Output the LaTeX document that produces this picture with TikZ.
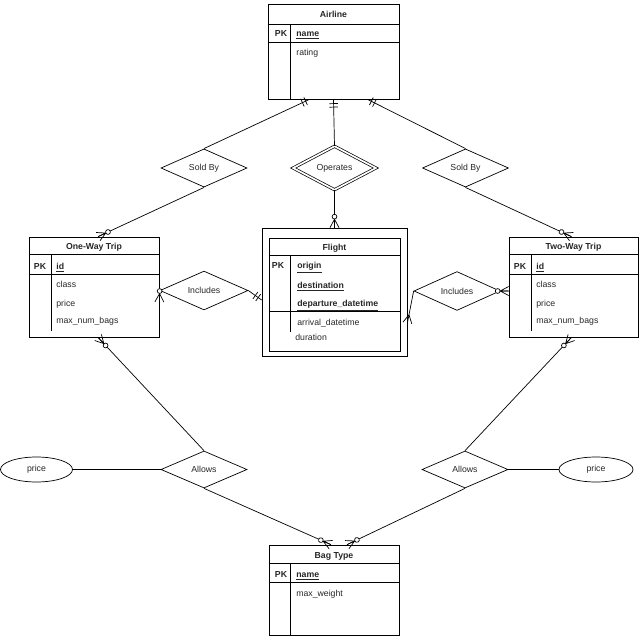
\documentclass[tikz,border=0pt]{standalone}
\usepackage{fontspec}
\setmainfont{Liberation Sans}
\usetikzlibrary{shapes.geometric,decorations.markings}

\newcommand{\erfont}{\fontsize{6.2}{7.5}\selectfont}

\tikzset{
  entity/.style={draw, rectangle, inner sep=0pt},
  rel/.style={draw, diamond, inner sep=0pt},
  attr/.style={draw, ellipse, inner sep=0pt},
  field/.style={anchor=west, inner sep=0pt, text height=1.6ex, text depth=0.6ex},
  title/.style={font=\erfont\bfseries, inner sep=0pt, text height=1.6ex, text depth=0.6ex},
  % cardinality marks at the end of a connector
  mandone/.style={postaction={decorate, decoration={markings, mark=at position 1 with {
      \draw (-3pt,-3pt) -- (-3pt,3pt) (-5.5pt,-3pt) -- (-5.5pt,3pt);}}}},
  zeromany/.style={postaction={decorate, decoration={markings, mark=at position 1 with {
      \draw (-6pt,0) -- (0,3.2pt) (-6pt,0) -- (0,-3.2pt) (-6pt,0) -- (0,0);
      \draw[fill=white] (-7.8pt,0) circle (1.7pt);}}}},
  many/.style={postaction={decorate, decoration={markings, mark=at position 1 with {
      \draw (-6pt,0) -- (0,3.2pt) (-6pt,0) -- (0,-3.2pt);}}}}
}

\begin{document}
\begin{tikzpicture}[x=0.025cm, y=-0.025cm, line width=0.5pt,
    every node/.style={font=\erfont, text=black!85}]
  \useasboundingbox (0,0) rectangle (640,640);

  % Airline
  \node[entity, minimum width=3.275cm, minimum height=2.375cm] (airline) at (333.5,51.5) {};
  \draw (airline.north west) ++(0,21) -- ++(131,0);
  \draw (airline.north west) ++(0,38.5) -- ++(131,0);
  \draw (airline.north west) ++(23,21) -- ++(0,74);
  \node[title] (airlinet) at (333.5,14) {Airline};
  \node[title] (airlinepk) at (281,33) {PK};
  \node[field, font=\erfont\bfseries] (airlinek) at (296,33) {\underline{name}};
  \node[field] (airlinea) at (296,52) {rating};

  % Flight (weak entity)
  \node[entity, minimum width=3.625cm, minimum height=3.2cm] (flighto) at (334.5,292) {};
  \node[entity, minimum width=3.275cm, minimum height=2.825cm] (flight) at (334.5,294.5) {};
  \draw (flight.north west) ++(0,18) -- ++(131,0);
  \draw (flight.north west) ++(0,74) -- ++(131,0);
  \draw (flight.north west) ++(22,18) -- ++(0,76);
  \node[title] (flightt) at (334.5,247) {Flight};
  \node[title] (flightpk) at (278,265) {PK};
  \node[field, font=\erfont\bfseries] (flightk1) at (297,265) {\underline{origin}};
  \node[field, font=\erfont\bfseries] (flightk2) at (297,285) {\underline{destination}};
  \node[field, font=\erfont\bfseries] (flightk3) at (297,303) {\underline{departure\_datetime}};
  \node[field] (flighta1) at (297,322) {arrival\_datetime};
  \node[field] (flighta2) at (295,337) {duration};

  % One-Way Trip
  \node[entity, minimum width=3.25cm, minimum height=2.5cm] (oneway) at (94,287) {};
  \draw (oneway.north west) ++(0,18) -- ++(130,0);
  \draw (oneway.north west) ++(0,38) -- ++(130,0);
  \draw (oneway.north west) ++(23,18) -- ++(0,76);
  \node[title] (onewayt) at (94,246) {One-Way Trip};
  \node[title] (onewaypk) at (40,266) {PK};
  \node[field, font=\erfont\bfseries] (onewayk) at (56,266) {\underline{id}};
  \node[field] (onewaya1) at (56,284) {class};
  \node[field] (onewaya2) at (56,303) {price};
  \node[field] (onewaya3) at (56,320) {max\_num\_bags};

  % Two-Way Trip
  \node[entity, minimum width=3.225cm, minimum height=2.5cm] (twoway) at (573.5,287) {};
  \draw (twoway.north west) ++(0,18) -- ++(129,0);
  \draw (twoway.north west) ++(0,38) -- ++(129,0);
  \draw (twoway.north west) ++(23,18) -- ++(0,76);
  \node[title] (twowayt) at (573.5,246) {Two-Way Trip};
  \node[title] (twowaypk) at (520,266) {PK};
  \node[field, font=\erfont\bfseries] (twowayk) at (536,266) {\underline{id}};
  \node[field] (twowaya1) at (536,284) {class};
  \node[field] (twowaya2) at (536,303) {price};
  \node[field] (twowaya3) at (536,320) {max\_num\_bags};

  % Bag Type
  \node[entity, minimum width=3.25cm, minimum height=2.25cm] (bagtype) at (334,590) {};
  \draw (bagtype.north west) ++(0,19) -- ++(130,0);
  \draw (bagtype.north west) ++(0,38) -- ++(130,0);
  \draw (bagtype.north west) ++(22,19) -- ++(0,71);
  \node[title] (bagtypet) at (334,555) {Bag Type};
  \node[title] (bagtypepk) at (281,574) {PK};
  \node[field, font=\erfont\bfseries] (bagtypek) at (296,574) {\underline{name}};
  \node[field] (bagtypea) at (296,593) {max\_weight};

  % Relationships
  \node[rel, minimum width=2.15cm, minimum height=0.95cm] (soldl) at (204,168) {Sold By};
  \node[rel, minimum width=2.15cm, minimum height=0.95cm] (soldr) at (465.5,168) {Sold By};
  \node[rel, double, double distance=1.2pt, minimum width=2.075cm, minimum height=0.85cm] (operates) at (334.5,168) {Operates};
  \node[rel, minimum width=2.2cm, minimum height=0.925cm] (incll) at (204,290.5) {Includes};
  \node[rel, minimum width=2.15cm, minimum height=0.95cm] (inclr) at (457,291) {Includes};
  \node[rel, minimum width=2.15cm, minimum height=0.925cm] (allowsl) at (204,469.5) {Allows};
  \node[rel, minimum width=2.15cm, minimum height=0.925cm] (allowsr) at (465,469.5) {Allows};

  % Attributes of Allows
  \node[attr, minimum width=1.8cm, minimum height=0.625cm] (pricel) at (36.5,469.5) {price};
  \node[attr, minimum width=1.85cm, minimum height=0.625cm] (pricer) at (596,469.5) {price};

  % Connectors
  \draw[mandone] (soldl.north) -- ([xshift=-0.6cm]airline.south);
  \draw[zeromany] (soldl.south) -- ([xshift=0.1cm]oneway.north);
  \draw[mandone] (soldr.north) -- ([xshift=0.85cm]airline.south);
  \draw[zeromany] (soldr.south) -- ([xshift=-0.05cm]twoway.north);
  \draw[mandone] (operates.north) -- (airline.south);
  \draw[zeromany] (operates.south) -- (flighto.north);
  \draw[zeromany] (incll.west) -- ([yshift=-0.375cm]oneway.east);
  \draw[mandone] (incll.east) -- ([yshift=-0.2cm]flighto.west);
  \draw[many] (inclr.west) -- ([yshift=-0.775cm]flighto.east);
  \draw[zeromany] (inclr.east) -- ([yshift=-0.1cm]twoway.west);
  \draw[zeromany] (allowsl.north) -- ([xshift=0.1cm]oneway.south);
  \draw[zeromany] (allowsl.south) -- ([xshift=-0.075cm]bagtype.north);
  \draw[zeromany] (allowsr.north) -- ([xshift=-0.05cm]twoway.south);
  \draw[zeromany] (allowsr.south) -- ([xshift=0.325cm]bagtype.north);
  \draw (pricel) -- (allowsl.west);
  \draw (allowsr.east) -- (pricer);
\end{tikzpicture}
\end{document}
